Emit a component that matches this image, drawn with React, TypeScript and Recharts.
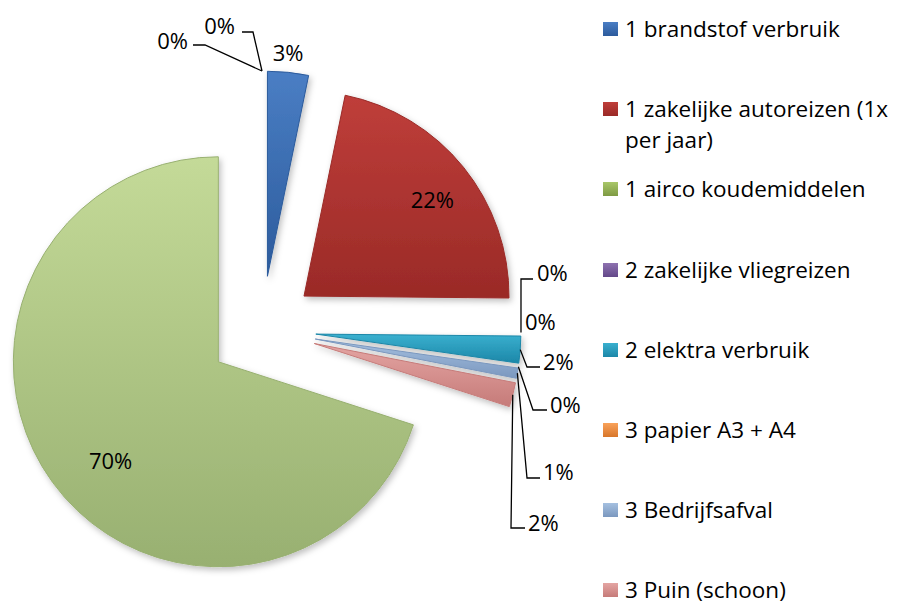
import { PieChart, Pie, Cell, Legend } from "recharts";

// category names in data order (the last three are cut off from the legend in the original)
const categories = [
  "1 brandstof verbruik",
  "1 zakelijke autoreizen (1x per jaar)",
  "1 airco koudemiddelen",
  "2 zakelijke vliegreizen",
  "2 elektra verbruik",
  "3 papier A3 + A4",
  "3 Bedrijfsafval",
  "3 Puin (schoon)",
  "3 overig",
  "4 overig a",
  "4 overig b",
];
// share of total emissions (%)
const shares = [3.2, 21.8, 0, 0, 2.1, 0, 0.8, 1.9, 69.6, 0, 0];
// legend as shown: text lines per entry
const legendLines = [
  ["1 brandstof verbruik"],
  ["1 zakelijke autoreizen (1x", "per jaar)"],
  ["1 airco koudemiddelen"],
  ["2 zakelijke vliegreizen"],
  ["2 elektra verbruik"],
  ["3 papier A3 + A4"],
  ["3 Bedrijfsafval"],
  ["3 Puin (schoon)"],
];

const COLORS = [
  ["#4A7EC4", "#2C5B9C"],
  ["#BF3E3A", "#9A2A27"],
  ["#A9C769", "#7E9A43"],
  ["#8E72B0", "#634889"],
  ["#3AB0CF", "#1C87A8"],
  ["#F9A25A", "#D8762A"],
  ["#A5C0E0", "#7B98BF"],
  ["#E4A5A3", "#C67B79"],
  ["#C4DA98", "#98B071"],
  ["#BEAED0", "#9683AE"],
  ["#A3D6E4", "#74B4C6"],
];

const FONT = "'Open Sans', sans-serif";
const CX = 262;
const CY = 330;
const R = 205;
const EXPLODE = 54;

type Lay =
  | { kind: "inside"; r: number; dx: number; dy: number }
  | { kind: "tip"; dx: number; dy: number }
  | { kind: "leader"; pts: [number, number][]; tx: number; ty: number; anchor: "start" | "end" }
  | { kind: "free"; tx: number; ty: number };

// label placement (relative to the pie centre) as Excel's best-fit put them
const LABEL_LAYOUT: Lay[] = [
  { kind: "tip", dx: 0, dy: -20 },
  { kind: "inside", r: 0.78, dx: 4, dy: 3 },
  { kind: "leader", pts: [[259, -51], [271, -51]], tx: 275, ty: -58, anchor: "start" },
  { kind: "free", tx: 263, ty: -9 },
  { kind: "leader", pts: [[265, 37], [278, 37]], tx: 281, ty: 31, anchor: "start" },
  { kind: "leader", pts: [[271, 80], [285, 80]], tx: 288, ty: 74, anchor: "start" },
  { kind: "leader", pts: [[265, 148], [278, 148]], tx: 281, ty: 141, anchor: "start" },
  { kind: "leader", pts: [[249, 198], [263, 198]], tx: 266, ty: 192, anchor: "start" },
  { kind: "inside", r: 0.71, dx: 10, dy: 13 },
  { kind: "leader", pts: [[-57, -285], [-69, -285]], tx: -74, ty: -290, anchor: "end" },
  { kind: "leader", pts: [[-9, -298], [-20, -298]], tx: -27, ty: -305, anchor: "end" },
];

const data = categories.map((name, i) => ({ name, value: shares[i] }));

const total = shares.reduce((a, b) => a + b, 0);
let acc = 0;
const offsets = shares.map((v) => {
  const mid = ((acc + v / 2) / total) * 2 * Math.PI;
  acc += v;
  return { dx: EXPLODE * Math.sin(mid), dy: -EXPLODE * Math.cos(mid) };
});

const renderLabel = (p: any) => {
  const { cx, cy, midAngle, outerRadius, index, percent } = p;
  const rad = (-midAngle * Math.PI) / 180;
  const ux = Math.cos(rad);
  const uy = Math.sin(rad);
  const ax = cx + EXPLODE * ux;
  const ay = cy + EXPLODE * uy;
  const tipX = ax + outerRadius * ux;
  const tipY = ay + outerRadius * uy;
  const text = `${Math.round(percent * 100)}%`;
  const lay = LABEL_LAYOUT[index];
  const tStyle = { fontFamily: FONT, fontSize: 22, fill: "#000" };
  if (lay.kind === "inside" || lay.kind === "tip") {
    const x = lay.kind === "inside" ? ax + outerRadius * lay.r * ux + lay.dx : tipX + lay.dx;
    const y = lay.kind === "inside" ? ay + outerRadius * lay.r * uy + lay.dy : tipY + lay.dy;
    return (
      <text key={`l${index}`} x={x} y={y} textAnchor="middle" dominantBaseline="central" style={tStyle}>
        {text}
      </text>
    );
  }
  if (lay.kind === "free") {
    return (
      <text key={`l${index}`} x={cx + lay.tx} y={cy + lay.ty} dominantBaseline="central" style={tStyle}>
        {text}
      </text>
    );
  }
  const pts = [[tipX, tipY], ...lay.pts.map(([x, y]) => [cx + x, cy + y])];
  return (
    <g key={`l${index}`}>
      <polyline points={pts.map((q) => q.join(",")).join(" ")} fill="none" stroke="#000" strokeWidth={1.3} />
      <text x={cx + lay.tx} y={cy + lay.ty} textAnchor={lay.anchor} dominantBaseline="central" style={tStyle}>
        {text}
      </text>
    </g>
  );
};

const renderLegend = () => (
  <div style={{ position: "relative", width: 904, height: 605 }}>
    {legendLines.map((lines, i) => (
      <div
        key={i}
        style={{
          position: "absolute",
          left: 603,
          top: 29 + 80.2 * i - 16,
          fontFamily: FONT,
          fontSize: 22.5,
          lineHeight: "31px",
          color: "#000",
          whiteSpace: "nowrap",
        }}
      >
        <span
          style={{
            position: "absolute",
            left: 0,
            top: 9,
            width: 15,
            height: 14,
            background: `linear-gradient(${COLORS[i][0]}, ${COLORS[i][1]})`,
          }}
        />
        {lines.map((t, j) => (
          <div key={j} style={{ marginLeft: 22 }}>
            {t}
          </div>
        ))}
      </div>
    ))}
  </div>
);

export default function App() {
  return (
    <div style={{ position: "absolute", left: 0, top: 0, width: 904, height: 605, background: "#fff" }}>
      <PieChart width={904} height={605} margin={{ top: 0, right: 0, bottom: 0, left: 0 }}>
        <defs>
          {COLORS.map(([a, b], i) => (
            <linearGradient key={i} id={`g${i}`} x1="0" y1="0" x2="0" y2="1">
              <stop offset="0%" stopColor={a} />
              <stop offset="100%" stopColor={b} />
            </linearGradient>
          ))}
          <filter id="sh" x="-20%" y="-20%" width="140%" height="140%">
            <feDropShadow dx="2" dy="3" stdDeviation="3" floodColor="#000" floodOpacity="0.25" />
          </filter>
        </defs>
        <Pie
          data={data}
          dataKey="value"
          nameKey="name"
          cx={CX}
          cy={CY}
          outerRadius={R}
          startAngle={90}
          endAngle={-270}
          label={renderLabel}
          labelLine={false}
          isAnimationActive={false}
        >
          {data.map((d, i) => (
            <Cell
              key={d.name}
              fill={`url(#g${i})`}
              stroke={COLORS[i][1]}
              strokeWidth={1}
              filter="url(#sh)"
              transform={`translate(${offsets[i].dx},${offsets[i].dy})`}
            />
          ))}
        </Pie>
        <Legend content={renderLegend} wrapperStyle={{ left: 0, top: 0, width: 904, height: 605 }} />
      </PieChart>
    </div>
  );
}
